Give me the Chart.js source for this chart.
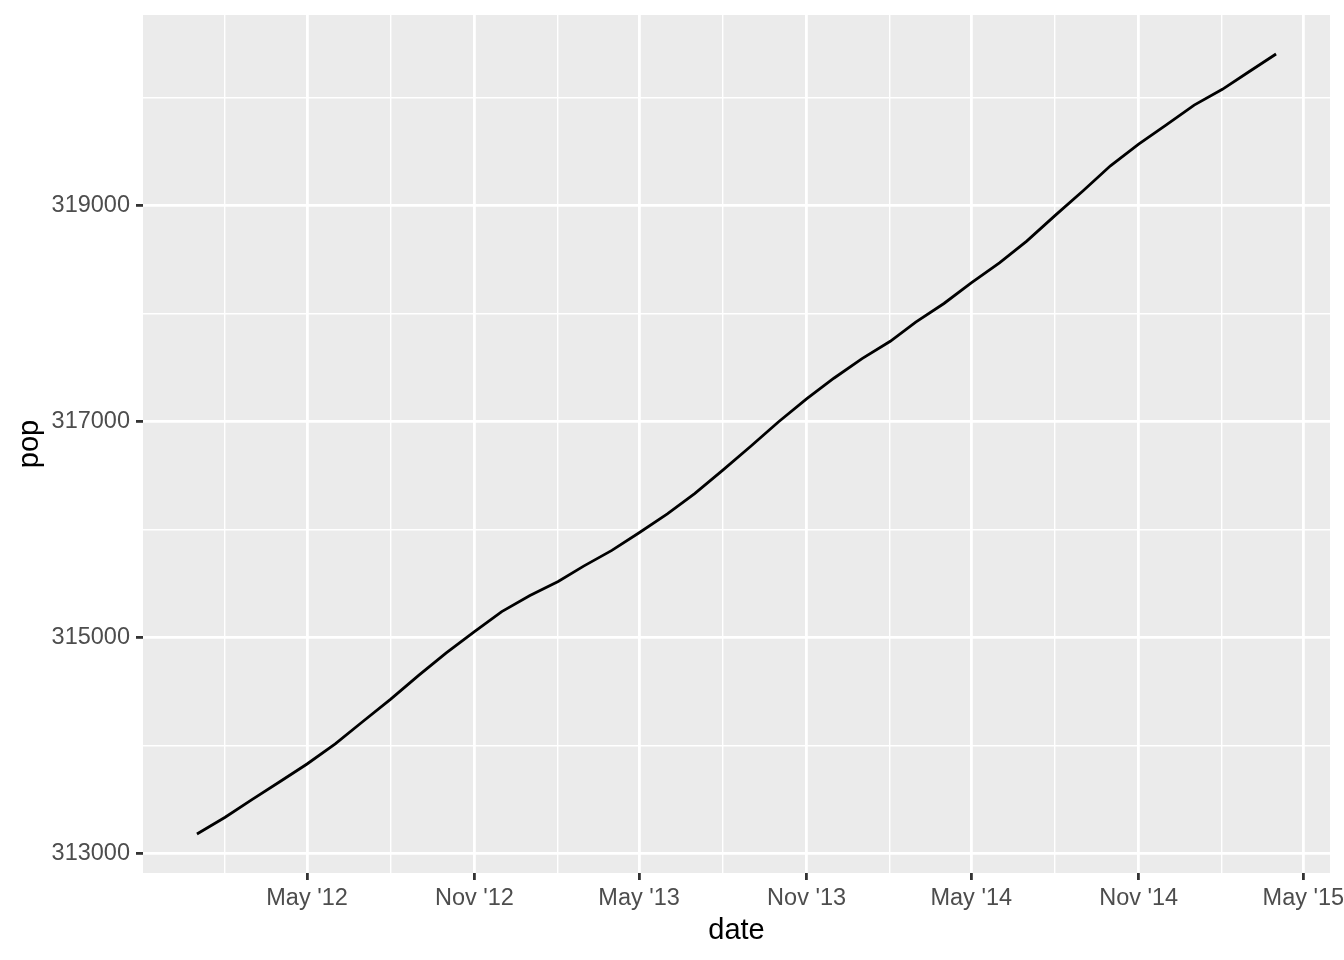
<!DOCTYPE html>
<html>
<head>
<meta charset="utf-8">
<script src="https://cdn.jsdelivr.net/npm/chart.js@4.4.1/dist/chart.umd.min.js"></script>
<style>
  html, body { margin: 0; padding: 0; background: #fff; }
  #wrap { width: 1344px; height: 960px; }
</style>
</head>
<body>
<div id="wrap"><canvas id="grafico" width="1344" height="960"></canvas></div>
<script>
// dados mensais (milhares)
const dates = [
  '2012-01-01', '2012-02-01', '2012-03-01', '2012-04-01', '2012-05-01', '2012-06-01',
  '2012-07-01', '2012-08-01', '2012-09-01', '2012-10-01', '2012-11-01', '2012-12-01',
  '2013-01-01', '2013-02-01', '2013-03-01', '2013-04-01', '2013-05-01', '2013-06-01',
  '2013-07-01', '2013-08-01', '2013-09-01', '2013-10-01', '2013-11-01', '2013-12-01',
  '2014-01-01', '2014-02-01', '2014-03-01', '2014-04-01', '2014-05-01', '2014-06-01',
  '2014-07-01', '2014-08-01', '2014-09-01', '2014-10-01', '2014-11-01', '2014-12-01',
  '2015-01-01', '2015-02-01', '2015-03-01', '2015-04-01'
];
const pop = [
  313183, 313338, 313499, 313667, 313831, 314018,
  314222, 314432, 314654, 314860, 315057, 315241,
  315390, 315520, 315662, 315808, 315971, 316146,
  316334, 316550, 316774, 316996, 317210, 317401,
  317583, 317743, 317921, 318093, 318283, 318469,
  318670, 318906, 319136, 319367, 319567, 319744,
  319929, 320075, 320231, 320402
];

const xMajor = ['2012-05-01', '2012-11-01', '2013-05-01', '2013-11-01', '2014-05-01', '2014-11-01', '2015-05-01'];
const xMajorLabels = ["May '12", "Nov '12", "May '13", "Nov '13", "May '14", "Nov '14", "May '15"];
const xMinor = ['2012-01-31', '2012-08-01', '2013-01-31', '2013-08-01', '2014-01-31', '2014-08-01', '2015-01-31'];
const yMajor = [313000, 315000, 317000, 319000];
const yMinor = [314000, 316000, 318000, 320000];

document.addEventListener('DOMContentLoaded', () => {
  const ctx = document.getElementById('grafico').getContext('2d');

  const xs = dates.map(d => Date.parse(d));
  const xMaj = xMajor.map(d => Date.parse(d));
  const xMin = xMinor.map(d => Date.parse(d));

  // expansao de 5% como no ggplot
  const xSpan = xs[xs.length - 1] - xs[0];
  const yLo = Math.min(...pop), yHi = Math.max(...pop);
  const ySpan = yHi - yLo;

  const fonte = 'Liberation Sans, Arial, Helvetica, sans-serif';

  const painel = {
    id: 'painel',
    beforeDraw(chart) {
      const a = chart.chartArea;
      const c = chart.ctx;
      c.save();
      c.fillStyle = '#EBEBEB';
      c.fillRect(a.left, a.top, a.right - a.left, a.bottom - a.top);
      c.restore();
    }
  };

  const ticksDe = (maj, min) => [...maj, ...min].sort((a, b) => a - b).map(v => ({ value: v }));

  const configuracao = {
    type: 'line',
    data: {
      datasets: [{
        data: xs.map((x, i) => ({ x: x, y: pop[i] })),
        borderColor: '#000000',
        borderWidth: 2.8,
        pointRadius: 0,
        tension: 0,
        fill: false
      }]
    },
    options: {
      responsive: false,
      animation: false,
      layout: { padding: { top: 15, right: 14, left: 0, bottom: 0 } },
      plugins: {
        legend: { display: false },
        tooltip: { enabled: false }
      },
      scales: {
        x: {
          type: 'linear',
          min: xs[0] - 0.05 * xSpan,
          max: xs[xs.length - 1] + 0.05 * xSpan,
          afterBuildTicks: s => { s.ticks = ticksDe(xMaj, xMin); },
          afterFit: s => { s.height = 87; s.paddingLeft = 0; s.paddingRight = 0; },
          border: { display: false },
          grid: {
            color: '#FFFFFF',
            lineWidth: c => (xMin.includes(c.tick.value) ? 1.4 : 2.8),
            tickColor: c => (xMin.includes(c.tick.value) ? 'rgba(0,0,0,0)' : '#333333'),
            tickWidth: 2.8,
            tickLength: 7
          },
          ticks: {
            autoSkip: false,
            maxRotation: 0,
            padding: 4,
            color: '#4D4D4D',
            font: { family: fonte, size: 23.5 },
            callback: v => {
              const i = xMaj.indexOf(v);
              return i >= 0 ? xMajorLabels[i] : '';
            }
          },
          title: {
            display: true,
            text: 'date',
            color: '#000000',
            font: { family: fonte, size: 29 },
            padding: { top: 0, bottom: 12 }
          }
        },
        y: {
          type: 'linear',
          min: yLo - 0.05 * ySpan,
          max: yHi + 0.05 * ySpan,
          afterBuildTicks: s => { s.ticks = ticksDe(yMajor, yMinor); },
          afterFit: s => { s.width = 143; s.paddingTop = 0; s.paddingBottom = 0; },
          border: { display: false },
          grid: {
            color: '#FFFFFF',
            lineWidth: c => (yMinor.includes(c.tick.value) ? 1.4 : 2.8),
            tickColor: c => (yMinor.includes(c.tick.value) ? 'rgba(0,0,0,0)' : '#333333'),
            tickWidth: 2.8,
            tickLength: 7
          },
          ticks: {
            autoSkip: false,
            padding: 6,
            color: '#4D4D4D',
            font: { family: fonte, size: 23.5 },
            callback: v => (yMajor.includes(v) ? String(v) : '')
          },
          title: {
            display: true,
            text: 'pop',
            color: '#000000',
            font: { family: fonte, size: 29 },
            padding: { top: 13, bottom: 0 }
          }
        }
      }
    },
    plugins: [painel]
  };

  new Chart(ctx, configuracao);
});
</script>
</body>
</html>
